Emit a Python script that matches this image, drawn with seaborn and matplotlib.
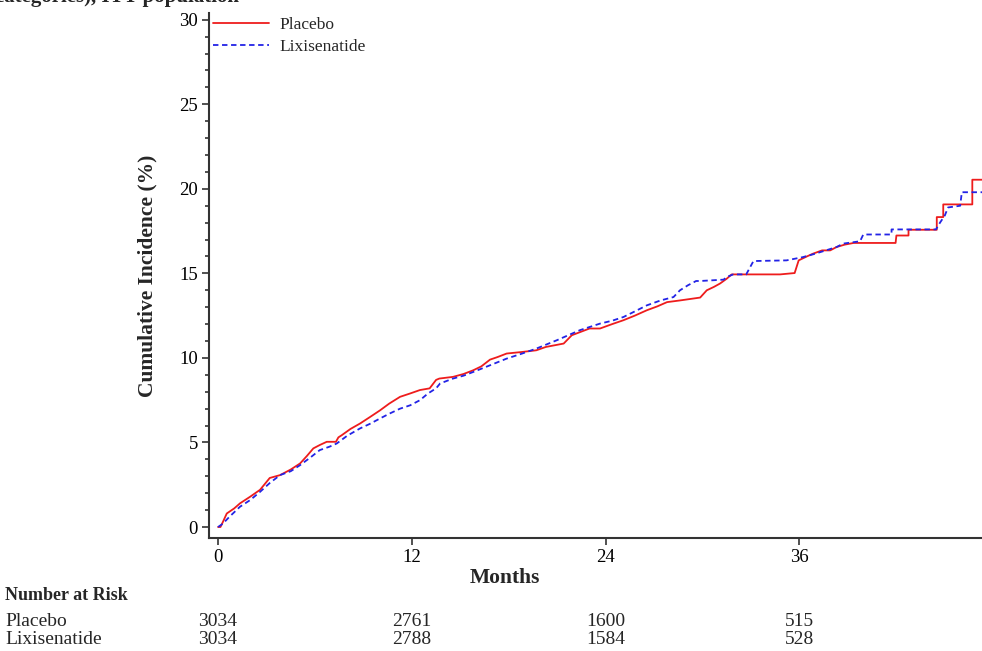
import pandas as pd
import seaborn as sns
import matplotlib.pyplot as plt
from matplotlib.ticker import MultipleLocator
from matplotlib.transforms import blended_transform_factory

# Curves (months, cumulative incidence %)
placebo_months = [0, 0.15, 0.3, 0.54, 1.0, 1.36, 2.0, 2.6, 3.2, 3.84,
                  4.5, 5.08, 5.5, 5.9, 6.3, 6.73, 7.3, 7.45, 7.66, 8.2,
                  8.79, 9.4, 10.03, 10.6, 11.27, 11.9, 12.5, 13.1, 13.5, 13.7,
                  14.55, 15.2, 15.8, 16.3, 16.84, 17.3, 17.87, 18.8, 19.7, 20.3,
                  21.4, 21.9, 23.0, 23.65, 24.4, 25.1, 25.8, 26.55, 27.2, 27.8,
                  28.6, 29.85, 30.26, 30.7, 31.08, 31.5, 31.8, 34.8, 35.7, 35.95,
                  36.45, 36.85, 37.4, 37.9, 38.3, 38.8, 39.35, 41.95, 42.0, 42.75,
                  42.75, 44.5, 44.5, 44.9, 44.9, 46.7, 46.7, 47.3]
placebo_inc = [0, 0.0, 0.3, 0.8, 1.1, 1.4, 1.8, 2.2, 2.9, 3.07,
               3.4, 3.76, 4.2, 4.65, 4.85, 5.04, 5.04, 5.3, 5.43, 5.8,
               6.12, 6.5, 6.9, 7.3, 7.7, 7.9, 8.1, 8.2, 8.7, 8.78,
               8.88, 9.05, 9.27, 9.5, 9.9, 10.05, 10.26, 10.35, 10.45, 10.65,
               10.85, 11.34, 11.74, 11.74, 12.0, 12.23, 12.5, 12.82, 13.05, 13.3,
               13.4, 13.57, 14.0, 14.2, 14.4, 14.69, 14.94, 14.94, 15.02, 15.77,
               16.0, 16.17, 16.36, 16.36, 16.56, 16.7, 16.8, 16.8, 17.24, 17.24,
               17.58, 17.58, 18.33, 18.33, 19.08, 19.08, 20.54, 20.54]

lixi_months = [0, 0.3, 0.7, 1.36, 2.0, 2.6, 3.2, 3.84, 4.5, 5.08,
               5.7, 6.3, 6.9, 7.35, 8.0, 8.79, 9.4, 10.03, 10.6, 11.27,
               11.9, 12.5, 13.0, 13.5, 13.75, 14.55, 15.2, 15.8, 16.8, 17.87,
               18.8, 19.7, 20.96, 22.4, 23.65, 24.4, 25.1, 25.8, 26.55, 27.4,
               28.2, 28.6, 29.1, 29.6, 29.85, 31.3, 31.5, 31.9, 32.7, 33.15,
               35.2, 36.2, 36.85, 37.6, 38.3, 38.7, 39.75, 39.95, 41.7, 41.7,
               44.45, 44.7, 45.0, 45.2, 45.95, 46.05, 47.3]
lixi_inc = [0, 0.2, 0.6, 1.2, 1.6, 2.08, 2.6, 3.07, 3.3, 3.66,
            4.1, 4.55, 4.75, 4.94, 5.4, 5.83, 6.1, 6.42, 6.7, 7.0,
            7.2, 7.5, 7.9, 8.2, 8.49, 8.78, 8.95, 9.17, 9.55, 9.96,
            10.25, 10.55, 11.04, 11.64, 12.03, 12.2, 12.42, 12.75, 13.11, 13.4,
            13.6, 14.0, 14.3, 14.55, 14.55, 14.63, 14.79, 14.94, 14.94, 15.73,
            15.77, 15.96, 16.13, 16.35, 16.56, 16.76, 16.9, 17.3, 17.3, 17.6,
            17.6, 18.0, 18.43, 18.9, 19.0, 19.8, 19.8]

# Number at risk table
risk_months = [0, 12, 24, 36]
placebo_risk = [3034, 2761, 1600, 515]
lixi_risk = [3034, 2788, 1584, 528]

df = pd.concat([
    pd.DataFrame({'Months': placebo_months, 'Incidence': placebo_inc, 'Arm': 'Placebo'}),
    pd.DataFrame({'Months': lixi_months, 'Incidence': lixi_inc, 'Arm': 'Lixisenatide'}),
])

sns.set_style('ticks')
plt.rcParams['font.family'] = ['Liberation Serif', 'DejaVu Serif']

fig = plt.figure(figsize=(9.82, 6.51), dpi=100)
ax = fig.add_axes([209 / 982, 113 / 651, 1 - 209 / 982, 525 / 651])

sns.lineplot(data=df, x='Months', y='Incidence', hue='Arm', style='Arm',
             palette={'Placebo': '#ee1c1c', 'Lixisenatide': '#2323e6'},
             dashes={'Placebo': '', 'Lixisenatide': (3, 2)},
             estimator=None, linewidth=1.3, ax=ax)

ax.set_xlim(-0.56, 47.3)
ax.set_ylim(-0.65, 30.4)
ax.set_xticks(risk_months)
ax.yaxis.set_major_locator(MultipleLocator(5))
ax.yaxis.set_minor_locator(MultipleLocator(1))
ax.tick_params(axis='both', which='major', labelsize=13.5, length=5, width=1.2,
               colors='#333333', labelcolor='black', pad=3)
ax.tick_params(axis='y', which='minor', length=3, width=1.2, colors='#333333')
for side in ['top', 'right']:
    ax.spines[side].set_visible(False)
for side in ['left', 'bottom']:
    ax.spines[side].set_linewidth(1.5)
    ax.spines[side].set_color('#333333')

ax.set_xlabel('Months', fontsize=15.5, fontweight='bold')
ax.xaxis.set_label_coords((505 - 209) / 773, -30 / 525)
ax.set_ylabel('Cumulative Incidence (%)', fontsize=15.5, fontweight='bold')
ax.yaxis.set_label_coords(-52 / 773, 0.5)

ax.legend(loc='upper left', bbox_to_anchor=(0.0, 1.0), frameon=False, fontsize=12.5,
          handlelength=3.2, handletextpad=0.6, labelspacing=0.3,
          borderpad=0.1, borderaxespad=0.15)

# cropped title line at the very top
fig.text(-0.005, 1 - 2 / 651, 'categories), ITT population', fontsize=15,
         fontweight='bold', ha='left', va='baseline')

# number at risk table below the axis
trans = blended_transform_factory(ax.transData, fig.transFigure)
fig.text(5 / 982, 1 - 596 / 651, 'Number at Risk', fontsize=13,
         fontweight='bold', va='center')
fig.text(5 / 982, 1 - 622 / 651, 'Placebo', fontsize=14, va='center')
fig.text(5 / 982, 1 - 640 / 651, 'Lixisenatide', fontsize=14, va='center')
for m, p, l in zip(risk_months, placebo_risk, lixi_risk):
    ax.text(m, 1 - 622 / 651, str(p), transform=trans, fontsize=14,
            ha='center', va='center', clip_on=False)
    ax.text(m, 1 - 640 / 651, str(l), transform=trans, fontsize=14,
            ha='center', va='center', clip_on=False)

fig.savefig('out.png', dpi=100)
